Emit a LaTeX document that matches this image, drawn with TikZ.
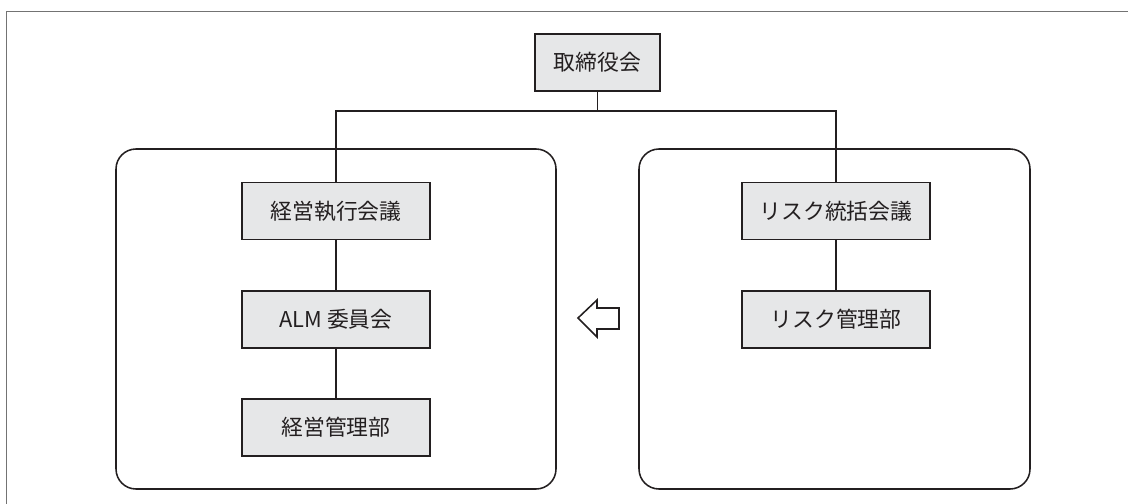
\documentclass[tikz,border=0pt]{standalone}
\usepackage{fontspec}
\newfontfamily\jpfont{Noto Sans CJK JP}
\usepackage{tikz}
\definecolor{inkgray}{HTML}{231F20}
\definecolor{boxgray}{HTML}{E6E7E8}
\tikzset{
	unitbox/.style={draw=inkgray, fill=boxgray, line width=1.1pt, inner sep=0pt,
		minimum width=4.7cm, minimum height=1.42cm, text=inkgray,
		font=\jpfont\fontsize{15.5}{18}\selectfont},
	groupbox/.style={draw=inkgray, line width=1.1pt, rounded corners=0.5cm},
	link/.style={draw=inkgray, line width=0.9pt}
}
\begin{document}
\begin{tikzpicture}[x=0.025cm, y=-0.025cm]
			%%%%% START %%%%%
			\useasboundingbox (0, 0) rectangle (1128, 504);
			
			\draw[line width=0.7pt, color=black!55] (6, 504) -- (6, 11) -- (1128, 11);
			
			\draw[groupbox] (116, 149) rectangle (556, 489);
			\draw[groupbox] (639, 149) rectangle (1030, 489);
			
			\node[unitbox, minimum width=3.12cm] (board) at (597.5, 62.5) {取締役会};
			
			\node[unitbox] (exec) at (336, 211) {経営執行会議};
			\node[unitbox] (alm) at (336, 319.5) {ALM 委員会};
			\node[unitbox] (mgmt) at (336, 427.5) {経営管理部};
			
			\node[unitbox] (riskboard) at (836, 211) {リスク統括会議};
			\node[unitbox] (riskdept) at (836, 319.5) {リスク管理部};
			
			\coordinate (split) at (597.5, 111);
			\draw[link] (board.south) -- (split);
			\draw[link] (exec.north) |- (split) -| (riskboard.north);
			\draw[link] (exec.south) -- (alm.north);
			\draw[link] (alm.south) -- (mgmt.north);
			\draw[link] (riskboard.south) -- (riskdept.north);
			
			\draw[line width=1.1pt, draw=inkgray, fill=white, line join=miter] (578, 318) -- (597, 300) -- (597, 308) -- (619, 308)
				-- (619, 329) -- (597, 329) -- (597, 337) -- cycle;
			
			%%%%% END %%%%%
		\end{tikzpicture}
\end{document}
